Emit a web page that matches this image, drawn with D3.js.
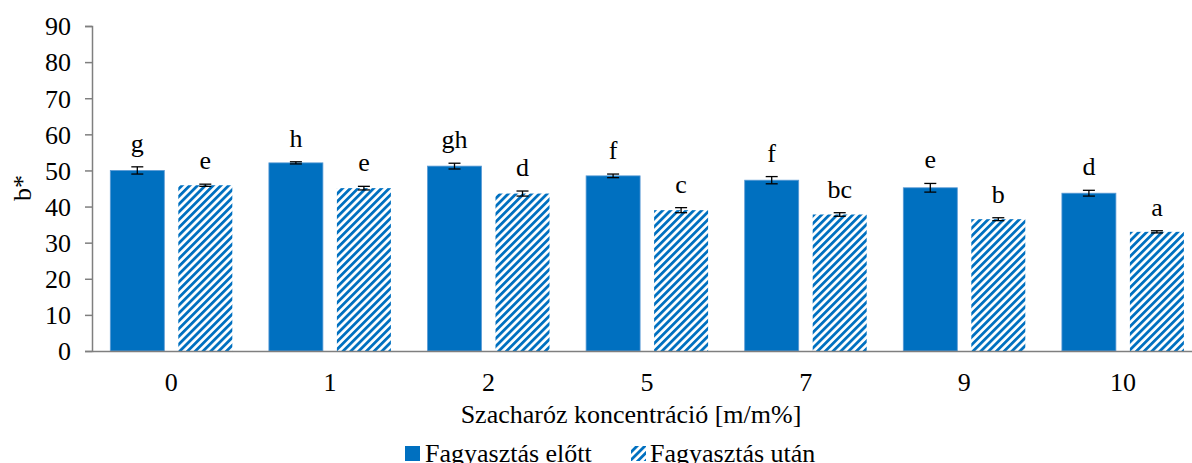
<!DOCTYPE html>
<html><head><meta charset="utf-8">
<script src="https://cdn.jsdelivr.net/npm/d3@7"></script>
<style>body{margin:0;background:#fff}svg{display:block}text{font-family:"Liberation Serif","Times New Roman",serif;fill:#000}</style>
</head><body><svg id="c" width="1192" height="463"></svg>
<script>
const categories = ["0","1","2","5","7","9","10"];
const before = [50.0, 52.1, 51.2, 48.5, 47.3, 45.2, 43.7];
const beforeErr = [1.0, 0.3, 0.8, 0.5, 1.0, 1.2, 0.8];
const after = [45.9, 45.1, 43.6, 39.0, 37.8, 36.5, 33.0];
const afterErr = [0.3, 0.5, 0.7, 0.7, 0.5, 0.4, 0.3];
const beforeLetters = ["g","h","gh","f","f","e","d"];
const afterLetters = ["e","e","d","c","bc","b","a"];
const yTicks = [0,10,20,30,40,50,60,70,80,90];
const seriesNames = ["Fagyasztás előtt","Fagyasztás után"];

const blue = "#0070C0";
const svg = d3.select("#c");
const defs = svg.append("defs");
const pat = defs.append("pattern").attr("id","hatch").attr("patternUnits","userSpaceOnUse")
  .attr("width",5.5).attr("height",5.5).attr("patternTransform","rotate(45)");
pat.append("rect").attr("width",5.5).attr("height",5.5).attr("fill","#fff");
pat.append("rect").attr("x",0).attr("width",2.8).attr("height",5.5).attr("fill",blue);

const pLeft = 92, pTop = 26, pBottom = 351;
const x = d3.scaleBand().domain(categories).range([pLeft, pLeft + 7*158.6]).paddingInner(0).paddingOuter(0);
const y = d3.scaleLinear().domain([0,90]).range([pBottom, pTop]);
const barW = 54, gap = 14;
const fs = 26;

// y axis
const ya = svg.append("g").attr("transform",`translate(${pLeft},0)`)
  .call(d3.axisLeft(y).tickValues(yTicks).tickSize(7).tickPadding(14));
ya.select(".domain").attr("stroke","#7f7f7f").attr("stroke-width",1.5);
ya.selectAll(".tick line").attr("stroke","#7f7f7f").attr("stroke-width",1.5);
ya.selectAll(".tick text").attr("font-size",fs).attr("fill","#000").attr("dy","0.34em");

const g = svg.append("g");
categories.forEach((c,i)=>{
  const cx = x(c) + x.bandwidth()/2;
  const xb = cx - gap/2 - barW, xa = cx + gap/2;
  g.append("rect").attr("x",xb).attr("y",y(before[i])).attr("width",barW).attr("height",y(0)-y(before[i]))
    .attr("fill",blue).attr("stroke","#5b9bd5").attr("stroke-width",0.8);
  g.append("rect").attr("x",xa).attr("y",y(after[i])).attr("width",barW).attr("height",y(0)-y(after[i]))
    .attr("fill","url(#hatch)");
  [[xb+barW/2,before[i],beforeErr[i],beforeLetters[i]],[xa+barW/2,after[i],afterErr[i],afterLetters[i]]].forEach(([ex,v,e,l])=>{
    const e1 = y(v+e), e2 = y(v-e);
    g.append("line").attr("x1",ex).attr("x2",ex).attr("y1",e1).attr("y2",e2).attr("stroke","#000").attr("stroke-width",1.3);
    g.append("line").attr("x1",ex-6).attr("x2",ex+6).attr("y1",e1).attr("y2",e1).attr("stroke","#000").attr("stroke-width",1.3);
    g.append("line").attr("x1",ex-6).attr("x2",ex+6).attr("y1",e2).attr("y2",e2).attr("stroke","#000").attr("stroke-width",1.3);
    g.append("text").attr("x",ex).attr("y",e1-15).attr("text-anchor","middle").attr("font-size",fs).text(l);
  });
});

// x axis
const xa2 = svg.append("g").attr("transform",`translate(0,${pBottom})`)
  .call(d3.axisBottom(x).tickSize(0).tickPadding(22));
xa2.select(".domain").attr("stroke","#7f7f7f").attr("stroke-width",1.5);
xa2.selectAll(".tick text").attr("font-size",fs).attr("fill","#000").attr("dy","0.71em");

svg.append("text").attr("x",631).attr("y",423).attr("text-anchor","middle").attr("font-size",fs).text("Szacharóz koncentráció [m/m%]");
svg.append("text").attr("transform","translate(31,188) rotate(-90)").attr("text-anchor","middle").attr("font-size",fs).text("b*");

// legend
const lg = svg.append("g");
lg.append("rect").attr("x",405).attr("y",446).attr("width",15).attr("height",15).attr("fill",blue);
lg.append("text").attr("x",425).attr("y",461.5).attr("font-size",fs).text(seriesNames[0]);
lg.append("rect").attr("x",631).attr("y",446).attr("width",15).attr("height",15).attr("fill","url(#hatch)");
lg.append("text").attr("x",650).attr("y",461.5).attr("font-size",fs).text(seriesNames[1]);

svg.selectAll("text").style("font-family","'Liberation Serif','Times New Roman',serif");
</script></body></html>
